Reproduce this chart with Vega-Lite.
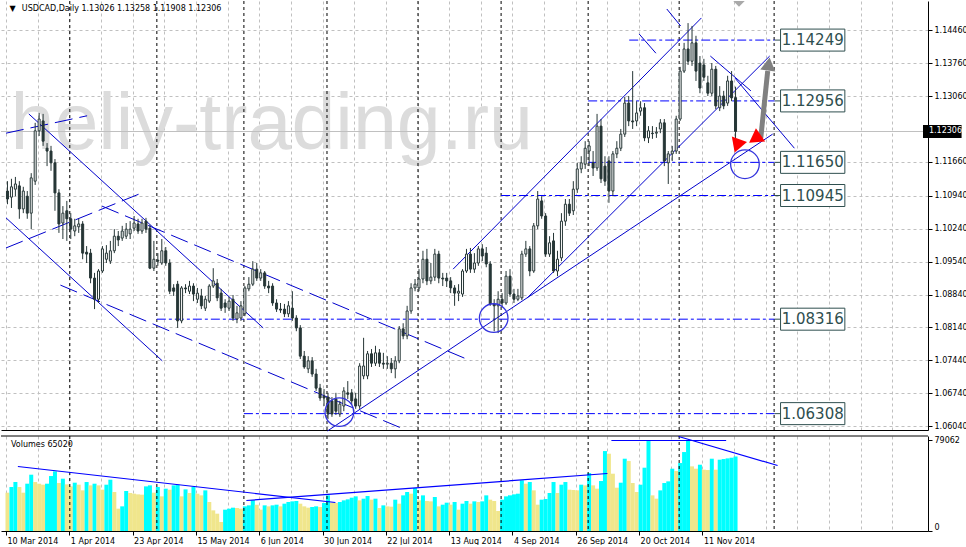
{
  "$schema": "https://vega.github.io/schema/vega-lite/v6.json",
  "padding": 0,
  "background": "#FFFFFF",
  "spacing": 3,
  "config": {
    "view": {"stroke": null},
    "axis": {"labelFont": "DejaVu Sans", "labelFontSize": 8, "labelColor": "#000000", "domainColor": "#000000", "tickColor": "#000000", "labelOverlap": false}
  },
  "datasets": {
    "candles": [
      {"i":0,"o":1.1104,"h":1.1125,"l":1.1076,"c":1.1087},
      {"i":1,"o":1.1091,"h":1.1130,"l":1.1068,"c":1.1113},
      {"i":2,"o":1.1108,"h":1.1134,"l":1.1093,"c":1.1119},
      {"i":3,"o":1.1115,"h":1.1125,"l":1.1045,"c":1.1066},
      {"i":4,"o":1.1066,"h":1.1113,"l":1.1057,"c":1.1104},
      {"i":5,"o":1.1093,"h":1.1104,"l":1.1045,"c":1.1057},
      {"i":6,"o":1.1057,"h":1.1142,"l":1.1023,"c":1.1132},
      {"i":7,"o":1.1125,"h":1.1249,"l":1.1117,"c":1.1232},
      {"i":8,"o":1.1232,"h":1.1270,"l":1.1221,"c":1.1257},
      {"i":9,"o":1.1253,"h":1.1268,"l":1.1200,"c":1.1210},
      {"i":10,"o":1.1195,"h":1.1206,"l":1.1157,"c":1.1189},
      {"i":11,"o":1.1189,"h":1.1200,"l":1.1147,"c":1.1164},
      {"i":12,"o":1.1164,"h":1.1172,"l":1.1062,"c":1.1100},
      {"i":13,"o":1.1100,"h":1.1108,"l":1.1015,"c":1.1034},
      {"i":14,"o":1.1036,"h":1.1072,"l":1.1002,"c":1.1057},
      {"i":15,"o":1.1062,"h":1.1083,"l":1.0998,"c":1.1045},
      {"i":16,"o":1.1045,"h":1.1057,"l":1.1002,"c":1.1023},
      {"i":17,"o":1.1019,"h":1.1045,"l":1.1008,"c":1.1030},
      {"i":18,"o":1.1028,"h":1.1045,"l":1.1015,"c":1.1034},
      {"i":19,"o":1.1034,"h":1.1040,"l":1.0959,"c":1.0972},
      {"i":20,"o":1.0974,"h":1.0987,"l":1.0951,"c":1.0970},
      {"i":21,"o":1.0972,"h":1.0981,"l":1.0908,"c":1.0919},
      {"i":22,"o":1.0919,"h":1.0930,"l":1.0853,"c":1.0874},
      {"i":23,"o":1.0874,"h":1.0938,"l":1.0866,"c":1.0934},
      {"i":24,"o":1.0934,"h":1.0987,"l":1.0930,"c":1.0981},
      {"i":25,"o":1.0959,"h":1.0989,"l":1.0951,"c":1.0972},
      {"i":26,"o":1.0955,"h":1.0998,"l":1.0949,"c":1.0977},
      {"i":27,"o":1.0977,"h":1.1023,"l":1.0972,"c":1.1008},
      {"i":28,"o":1.1008,"h":1.1019,"l":1.0987,"c":1.1000},
      {"i":29,"o":1.1004,"h":1.1030,"l":1.0998,"c":1.1019},
      {"i":30,"o":1.1008,"h":1.1036,"l":1.1002,"c":1.1023},
      {"i":31,"o":1.1013,"h":1.1040,"l":1.1002,"c":1.1023},
      {"i":32,"o":1.1025,"h":1.1051,"l":1.1019,"c":1.1036},
      {"i":33,"o":1.1034,"h":1.1045,"l":1.1013,"c":1.1019},
      {"i":34,"o":1.1019,"h":1.1045,"l":1.1013,"c":1.1036},
      {"i":35,"o":1.1040,"h":1.1047,"l":1.1015,"c":1.1023},
      {"i":36,"o":1.1025,"h":1.1032,"l":1.0938,"c":1.0940},
      {"i":37,"o":1.0940,"h":1.0998,"l":1.0934,"c":1.0959},
      {"i":38,"o":1.0957,"h":1.0972,"l":1.0945,"c":1.0955},
      {"i":39,"o":1.0951,"h":1.1002,"l":1.0947,"c":1.0977},
      {"i":40,"o":1.0977,"h":1.0985,"l":1.0945,"c":1.0951},
      {"i":41,"o":1.0951,"h":1.0959,"l":1.0885,"c":1.0891},
      {"i":42,"o":1.0898,"h":1.0906,"l":1.0881,"c":1.0891},
      {"i":43,"o":1.0906,"h":1.0913,"l":1.0813,"c":1.0828},
      {"i":44,"o":1.0828,"h":1.0902,"l":1.0823,"c":1.0898},
      {"i":45,"o":1.0898,"h":1.0906,"l":1.0887,"c":1.0896},
      {"i":46,"o":1.0891,"h":1.0913,"l":1.0885,"c":1.0902},
      {"i":47,"o":1.0902,"h":1.0908,"l":1.0870,"c":1.0885},
      {"i":48,"o":1.0874,"h":1.0898,"l":1.0866,"c":1.0887},
      {"i":49,"o":1.0881,"h":1.0896,"l":1.0853,"c":1.0860},
      {"i":50,"o":1.0855,"h":1.0881,"l":1.0849,"c":1.0874},
      {"i":51,"o":1.0870,"h":1.0906,"l":1.0866,"c":1.0902},
      {"i":52,"o":1.0902,"h":1.0940,"l":1.0898,"c":1.0913},
      {"i":53,"o":1.0908,"h":1.0917,"l":1.0870,"c":1.0877},
      {"i":54,"o":1.0887,"h":1.0896,"l":1.0849,"c":1.0855},
      {"i":55,"o":1.0866,"h":1.0874,"l":1.0845,"c":1.0857},
      {"i":56,"o":1.0855,"h":1.0879,"l":1.0849,"c":1.0870},
      {"i":57,"o":1.0874,"h":1.0883,"l":1.0828,"c":1.0834},
      {"i":58,"o":1.0832,"h":1.0860,"l":1.0823,"c":1.0845},
      {"i":59,"o":1.0834,"h":1.0870,"l":1.0828,"c":1.0860},
      {"i":60,"o":1.0843,"h":1.0902,"l":1.0838,"c":1.0898},
      {"i":61,"o":1.0896,"h":1.0921,"l":1.0891,"c":1.0906},
      {"i":62,"o":1.0906,"h":1.0955,"l":1.0902,"c":1.0938},
      {"i":63,"o":1.0938,"h":1.0951,"l":1.0913,"c":1.0919},
      {"i":64,"o":1.0919,"h":1.0938,"l":1.0913,"c":1.0930},
      {"i":65,"o":1.0930,"h":1.0934,"l":1.0896,"c":1.0902},
      {"i":66,"o":1.0902,"h":1.0913,"l":1.0887,"c":1.0898},
      {"i":67,"o":1.0902,"h":1.0908,"l":1.0860,"c":1.0866},
      {"i":68,"o":1.0866,"h":1.0874,"l":1.0847,"c":1.0853},
      {"i":69,"o":1.0853,"h":1.0866,"l":1.0845,"c":1.0851},
      {"i":70,"o":1.0853,"h":1.0864,"l":1.0836,"c":1.0843},
      {"i":71,"o":1.0843,"h":1.0870,"l":1.0836,"c":1.0860},
      {"i":72,"o":1.0855,"h":1.0891,"l":1.0828,"c":1.0834},
      {"i":73,"o":1.0834,"h":1.0840,"l":1.0806,"c":1.0813},
      {"i":74,"o":1.0813,"h":1.0819,"l":1.0747,"c":1.0753},
      {"i":75,"o":1.0753,"h":1.0764,"l":1.0726,"c":1.0730},
      {"i":76,"o":1.0726,"h":1.0753,"l":1.0717,"c":1.0743},
      {"i":77,"o":1.0743,"h":1.0751,"l":1.0709,"c":1.0715},
      {"i":78,"o":1.0715,"h":1.0726,"l":1.0679,"c":1.0685},
      {"i":79,"o":1.0685,"h":1.0694,"l":1.0658,"c":1.0664},
      {"i":80,"o":1.0668,"h":1.0683,"l":1.0647,"c":1.0664},
      {"i":81,"o":1.0666,"h":1.0675,"l":1.0619,"c":1.0630},
      {"i":82,"o":1.0658,"h":1.0666,"l":1.0624,"c":1.0630},
      {"i":83,"o":1.0662,"h":1.0675,"l":1.0628,"c":1.0636},
      {"i":84,"o":1.0630,"h":1.0658,"l":1.0624,"c":1.0651},
      {"i":85,"o":1.0647,"h":1.0687,"l":1.0636,"c":1.0679},
      {"i":86,"o":1.0675,"h":1.0700,"l":1.0662,"c":1.0672},
      {"i":87,"o":1.0675,"h":1.0683,"l":1.0649,"c":1.0658},
      {"i":88,"o":1.0662,"h":1.0675,"l":1.0641,"c":1.0647},
      {"i":89,"o":1.0647,"h":1.0738,"l":1.0641,"c":1.0732},
      {"i":90,"o":1.0711,"h":1.0792,"l":1.0704,"c":1.0732},
      {"i":91,"o":1.0711,"h":1.0764,"l":1.0704,"c":1.0758},
      {"i":92,"o":1.0758,"h":1.0768,"l":1.0730,"c":1.0738},
      {"i":93,"o":1.0738,"h":1.0775,"l":1.0732,"c":1.0760},
      {"i":94,"o":1.0760,"h":1.0768,"l":1.0730,"c":1.0738},
      {"i":95,"o":1.0738,"h":1.0760,"l":1.0726,"c":1.0736},
      {"i":96,"o":1.0736,"h":1.0753,"l":1.0726,"c":1.0738},
      {"i":97,"o":1.0738,"h":1.0749,"l":1.0717,"c":1.0726},
      {"i":98,"o":1.0726,"h":1.0753,"l":1.0706,"c":1.0743},
      {"i":99,"o":1.0743,"h":1.0817,"l":1.0738,"c":1.0811},
      {"i":100,"o":1.0811,"h":1.0823,"l":1.0789,"c":1.0796},
      {"i":101,"o":1.0796,"h":1.0860,"l":1.0789,"c":1.0849},
      {"i":102,"o":1.0849,"h":1.0908,"l":1.0843,"c":1.0898},
      {"i":103,"o":1.0898,"h":1.0917,"l":1.0891,"c":1.0906},
      {"i":104,"o":1.0898,"h":1.0938,"l":1.0891,"c":1.0917},
      {"i":105,"o":1.0917,"h":1.0977,"l":1.0908,"c":1.0959},
      {"i":106,"o":1.0959,"h":1.0981,"l":1.0904,"c":1.0913},
      {"i":107,"o":1.0913,"h":1.0951,"l":1.0906,"c":1.0921},
      {"i":108,"o":1.0921,"h":1.0981,"l":1.0913,"c":1.0970},
      {"i":109,"o":1.0970,"h":1.0977,"l":1.0908,"c":1.0919},
      {"i":110,"o":1.0919,"h":1.0930,"l":1.0902,"c":1.0917},
      {"i":111,"o":1.0919,"h":1.0930,"l":1.0900,"c":1.0913},
      {"i":112,"o":1.0913,"h":1.0921,"l":1.0887,"c":1.0898},
      {"i":113,"o":1.0898,"h":1.0904,"l":1.0860,"c":1.0887},
      {"i":114,"o":1.0887,"h":1.0906,"l":1.0870,"c":1.0891},
      {"i":115,"o":1.0885,"h":1.0938,"l":1.0879,"c":1.0934},
      {"i":116,"o":1.0934,"h":1.0981,"l":1.0930,"c":1.0970},
      {"i":117,"o":1.0970,"h":1.0983,"l":1.0930,"c":1.0938},
      {"i":118,"o":1.0938,"h":1.0972,"l":1.0930,"c":1.0951},
      {"i":119,"o":1.0951,"h":1.0987,"l":1.0945,"c":1.0981},
      {"i":120,"o":1.0981,"h":1.0991,"l":1.0955,"c":1.0966},
      {"i":121,"o":1.0972,"h":1.0985,"l":1.0942,"c":1.0949},
      {"i":122,"o":1.0949,"h":1.0955,"l":1.0860,"c":1.0864},
      {"i":123,"o":1.0864,"h":1.0874,"l":1.0806,"c":1.0860},
      {"i":124,"o":1.0860,"h":1.0891,"l":1.0802,"c":1.0874},
      {"i":125,"o":1.0874,"h":1.0887,"l":1.0857,"c":1.0866},
      {"i":126,"o":1.0866,"h":1.0934,"l":1.0862,"c":1.0923},
      {"i":127,"o":1.0923,"h":1.0938,"l":1.0879,"c":1.0885},
      {"i":128,"o":1.0885,"h":1.0896,"l":1.0866,"c":1.0874},
      {"i":129,"o":1.0874,"h":1.0896,"l":1.0870,"c":1.0881},
      {"i":130,"o":1.0877,"h":1.0977,"l":1.0872,"c":1.0970},
      {"i":131,"o":1.0970,"h":1.0998,"l":1.0964,"c":1.0981},
      {"i":132,"o":1.0981,"h":1.0987,"l":1.0923,"c":1.0934},
      {"i":133,"o":1.0934,"h":1.1036,"l":1.0930,"c":1.1030},
      {"i":134,"o":1.1030,"h":1.1104,"l":1.1023,"c":1.1087},
      {"i":135,"o":1.1083,"h":1.1093,"l":1.1045,"c":1.1051},
      {"i":136,"o":1.1051,"h":1.1057,"l":1.0964,"c":1.0970},
      {"i":137,"o":1.0970,"h":1.1008,"l":1.0964,"c":1.0994},
      {"i":138,"o":1.0998,"h":1.1015,"l":1.0930,"c":1.0934},
      {"i":139,"o":1.0934,"h":1.0977,"l":1.0923,"c":1.0959},
      {"i":140,"o":1.0962,"h":1.1057,"l":1.0955,"c":1.1040},
      {"i":141,"o":1.1040,"h":1.1087,"l":1.1030,"c":1.1076},
      {"i":142,"o":1.1076,"h":1.1087,"l":1.1051,"c":1.1057},
      {"i":143,"o":1.1062,"h":1.1125,"l":1.1053,"c":1.1108},
      {"i":144,"o":1.1108,"h":1.1164,"l":1.1100,"c":1.1151},
      {"i":145,"o":1.1151,"h":1.1178,"l":1.1142,"c":1.1164},
      {"i":146,"o":1.1161,"h":1.1210,"l":1.1151,"c":1.1195},
      {"i":147,"o":1.1189,"h":1.1210,"l":1.1157,"c":1.1200},
      {"i":148,"o":1.1164,"h":1.1189,"l":1.1136,"c":1.1153},
      {"i":149,"o":1.1153,"h":1.1268,"l":1.1147,"c":1.1242},
      {"i":150,"o":1.1242,"h":1.1257,"l":1.1121,"c":1.1130},
      {"i":151,"o":1.1157,"h":1.1178,"l":1.1115,"c":1.1125},
      {"i":152,"o":1.1168,"h":1.1178,"l":1.1079,"c":1.1104},
      {"i":153,"o":1.1104,"h":1.1189,"l":1.1093,"c":1.1183},
      {"i":154,"o":1.1183,"h":1.1210,"l":1.1174,"c":1.1195},
      {"i":155,"o":1.1195,"h":1.1236,"l":1.1189,"c":1.1225},
      {"i":156,"o":1.1225,"h":1.1304,"l":1.1219,"c":1.1291},
      {"i":157,"o":1.1291,"h":1.1306,"l":1.1242,"c":1.1253},
      {"i":158,"o":1.1253,"h":1.1359,"l":1.1236,"c":1.1251},
      {"i":159,"o":1.1253,"h":1.1295,"l":1.1242,"c":1.1270},
      {"i":160,"o":1.1274,"h":1.1295,"l":1.1264,"c":1.1281},
      {"i":161,"o":1.1281,"h":1.1291,"l":1.1210,"c":1.1217},
      {"i":162,"o":1.1217,"h":1.1242,"l":1.1206,"c":1.1232},
      {"i":163,"o":1.1227,"h":1.1242,"l":1.1215,"c":1.1226},
      {"i":164,"o":1.1227,"h":1.1240,"l":1.1217,"c":1.1229},
      {"i":165,"o":1.1236,"h":1.1257,"l":1.1227,"c":1.1249},
      {"i":166,"o":1.1249,"h":1.1257,"l":1.1157,"c":1.1168},
      {"i":167,"o":1.1164,"h":1.1189,"l":1.1119,"c":1.1183},
      {"i":168,"o":1.1183,"h":1.1200,"l":1.1168,"c":1.1189},
      {"i":169,"o":1.1189,"h":1.1264,"l":1.1183,"c":1.1257},
      {"i":170,"o":1.1257,"h":1.1368,"l":1.1253,"c":1.1359},
      {"i":171,"o":1.1359,"h":1.1419,"l":1.1355,"c":1.1406},
      {"i":172,"o":1.1406,"h":1.1461,"l":1.1372,"c":1.1380},
      {"i":173,"o":1.1380,"h":1.1455,"l":1.1370,"c":1.1419},
      {"i":174,"o":1.1419,"h":1.1434,"l":1.1338,"c":1.1359},
      {"i":175,"o":1.1376,"h":1.1391,"l":1.1312,"c":1.1323},
      {"i":176,"o":1.1372,"h":1.1385,"l":1.1338,"c":1.1346},
      {"i":177,"o":1.1334,"h":1.1349,"l":1.1306,"c":1.1312},
      {"i":178,"o":1.1312,"h":1.1376,"l":1.1306,"c":1.1363},
      {"i":179,"o":1.1363,"h":1.1370,"l":1.1278,"c":1.1285},
      {"i":180,"o":1.1281,"h":1.1327,"l":1.1274,"c":1.1306},
      {"i":181,"o":1.1306,"h":1.1317,"l":1.1278,"c":1.1285},
      {"i":182,"o":1.1291,"h":1.1349,"l":1.1285,"c":1.1338},
      {"i":183,"o":1.1338,"h":1.1359,"l":1.1295,"c":1.1302},
      {"i":184,"o":1.13026,"h":1.13258,"l":1.11908,"c":1.12306}
    ],
    "vol": [
      {"i":0,"v":33431,"up":false},{"i":1,"v":38372,"up":true},{"i":2,"v":42733,"up":true},{"i":3,"v":38372,"up":false},
      {"i":4,"v":33431,"up":false},{"i":5,"v":41279,"up":true},{"i":6,"v":49128,"up":true},{"i":7,"v":42733,"up":false},
      {"i":8,"v":41279,"up":false},{"i":9,"v":40407,"up":false},{"i":10,"v":41279,"up":true},{"i":11,"v":47966,"up":true},
      {"i":12,"v":52035,"up":true},{"i":13,"v":41861,"up":false},{"i":14,"v":45640,"up":true},{"i":15,"v":40698,"up":false},
      {"i":16,"v":38954,"up":false},{"i":17,"v":42152,"up":true},{"i":18,"v":40407,"up":false},{"i":19,"v":35465,"up":false},
      {"i":20,"v":42733,"up":true},{"i":21,"v":39826,"up":false},{"i":22,"v":41279,"up":true},{"i":23,"v":39826,"up":false},
      {"i":24,"v":36047,"up":false},{"i":25,"v":40407,"up":true},{"i":26,"v":44768,"up":true},{"i":27,"v":34012,"up":false},
      {"i":28,"v":19477,"up":false},{"i":29,"v":21512,"up":true},{"i":30,"v":34884,"up":true},{"i":31,"v":33140,"up":false},
      {"i":32,"v":32558,"up":false},{"i":33,"v":31977,"up":false},{"i":34,"v":31686,"up":false},{"i":35,"v":38954,"up":true},
      {"i":36,"v":39826,"up":true},{"i":37,"v":33431,"up":false},{"i":38,"v":38372,"up":true},{"i":39,"v":30233,"up":false},
      {"i":40,"v":36919,"up":true},{"i":41,"v":36047,"up":false},{"i":42,"v":39826,"up":true},{"i":43,"v":40407,"up":true},
      {"i":44,"v":30233,"up":false},{"i":45,"v":36338,"up":true},{"i":46,"v":33140,"up":false},{"i":47,"v":38372,"up":true},
      {"i":48,"v":32558,"up":false},{"i":49,"v":31105,"up":false},{"i":50,"v":35465,"up":true},{"i":51,"v":25291,"up":false},
      {"i":52,"v":18023,"up":false},{"i":53,"v":15116,"up":false},{"i":54,"v":7849,"up":false},{"i":55,"v":18605,"up":true},
      {"i":56,"v":19477,"up":true},{"i":57,"v":20349,"up":true},{"i":58,"v":20058,"up":false},{"i":59,"v":19477,"up":false},
      {"i":60,"v":21512,"up":true},{"i":61,"v":22384,"up":true},{"i":62,"v":26744,"up":true},{"i":63,"v":22965,"up":false},
      {"i":64,"v":18605,"up":false},{"i":65,"v":22384,"up":true},{"i":66,"v":21512,"up":false},{"i":67,"v":22384,"up":true},
      {"i":68,"v":22965,"up":true},{"i":69,"v":21512,"up":false},{"i":70,"v":23837,"up":true},{"i":71,"v":25291,"up":true},
      {"i":72,"v":25872,"up":true},{"i":73,"v":26163,"up":true},{"i":74,"v":23837,"up":false},{"i":75,"v":21512,"up":false},
      {"i":76,"v":20349,"up":false},{"i":77,"v":20930,"up":true},{"i":78,"v":21512,"up":true},{"i":79,"v":20930,"up":false},
      {"i":80,"v":24419,"up":true},{"i":81,"v":31105,"up":true},{"i":82,"v":24710,"up":false},{"i":83,"v":24419,"up":false},
      {"i":84,"v":25291,"up":true},{"i":85,"v":26744,"up":true},{"i":86,"v":27617,"up":true},{"i":87,"v":29070,"up":true},
      {"i":88,"v":30233,"up":true},{"i":89,"v":26744,"up":false},{"i":90,"v":28198,"up":true},{"i":91,"v":30524,"up":true},
      {"i":92,"v":27326,"up":false},{"i":93,"v":28198,"up":true},{"i":94,"v":20058,"up":false},{"i":95,"v":22384,"up":true},
      {"i":96,"v":21512,"up":false},{"i":97,"v":21221,"up":false},{"i":98,"v":27326,"up":true},{"i":99,"v":23837,"up":false},
      {"i":100,"v":31105,"up":true},{"i":101,"v":34012,"up":true},{"i":102,"v":32558,"up":false},{"i":103,"v":37500,"up":true},
      {"i":104,"v":26744,"up":false},{"i":105,"v":31105,"up":true},{"i":106,"v":26163,"up":false},{"i":107,"v":25872,"up":false},
      {"i":108,"v":29651,"up":true},{"i":109,"v":21512,"up":false},{"i":110,"v":22965,"up":true},{"i":111,"v":24710,"up":true},
      {"i":112,"v":22965,"up":false},{"i":113,"v":25291,"up":true},{"i":114,"v":18605,"up":false},{"i":115,"v":23837,"up":true},
      {"i":116,"v":26163,"up":true},{"i":117,"v":23837,"up":false},{"i":118,"v":25872,"up":true},{"i":119,"v":25291,"up":false},
      {"i":120,"v":25872,"up":true},{"i":121,"v":31105,"up":true},{"i":122,"v":27326,"up":false},{"i":123,"v":26163,"up":false},
      {"i":124,"v":17442,"up":false},{"i":125,"v":27326,"up":true},{"i":126,"v":30233,"up":true},{"i":127,"v":31105,"up":true},
      {"i":128,"v":31977,"up":true},{"i":129,"v":32558,"up":true},{"i":130,"v":44186,"up":true},{"i":131,"v":41279,"up":false},
      {"i":132,"v":42733,"up":true},{"i":133,"v":35465,"up":false},{"i":134,"v":22965,"up":false},{"i":135,"v":27326,"up":true},
      {"i":136,"v":27907,"up":true},{"i":137,"v":33140,"up":true},{"i":138,"v":42733,"up":true},{"i":139,"v":33140,"up":false},
      {"i":140,"v":40407,"up":true},{"i":141,"v":42733,"up":true},{"i":142,"v":36047,"up":false},{"i":143,"v":35756,"up":false},
      {"i":144,"v":35465,"up":false},{"i":145,"v":40407,"up":true},{"i":146,"v":39826,"up":false},{"i":147,"v":50582,"up":true},
      {"i":148,"v":39826,"up":false},{"i":149,"v":36919,"up":false},{"i":150,"v":43605,"up":true},{"i":151,"v":69768,"up":true},
      {"i":152,"v":67442,"up":false},{"i":153,"v":50000,"up":false},{"i":154,"v":37791,"up":false},{"i":155,"v":42152,"up":true},
      {"i":156,"v":63082,"up":true},{"i":157,"v":61047,"up":false},{"i":158,"v":41861,"up":false},{"i":159,"v":34012,"up":false},
      {"i":160,"v":40407,"up":true},{"i":161,"v":55233,"up":true},{"i":162,"v":78489,"up":true},{"i":163,"v":31105,"up":false},
      {"i":164,"v":28198,"up":false},{"i":165,"v":35465,"up":true},{"i":166,"v":41861,"up":true},{"i":167,"v":43314,"up":true},
      {"i":168,"v":54361,"up":true},{"i":169,"v":52326,"up":false},{"i":170,"v":59303,"up":true},{"i":171,"v":68896,"up":true},
      {"i":172,"v":79062,"up":true},{"i":173,"v":56396,"up":false},{"i":174,"v":54361,"up":false},{"i":175,"v":57849,"up":true},
      {"i":176,"v":53489,"up":false},{"i":177,"v":53198,"up":false},{"i":178,"v":63082,"up":true},{"i":179,"v":53489,"up":false},
      {"i":180,"v":62210,"up":true},{"i":181,"v":62792,"up":true},{"i":182,"v":63373,"up":true},{"i":183,"v":63954,"up":true},
      {"i":184,"v":65020,"up":true}
    ],
    "levels": [
      {"p":1.14249,"s":157.125,"t":"1.14249"},
      {"p":1.12956,"s":146.75,"t":"1.12956"},
      {"p":1.11650,"s":146.75,"t":"1.11650"},
      {"p":1.10945,"s":124.75,"t":"1.10945"},
      {"p":1.08316,"s":37.75,"t":"1.08316"},
      {"p":1.06308,"s":59.75,"t":"1.06308"}
    ],
    "cur": [{"p":1.12306,"t":"1.12306"}],
    "seps": [{"i":15.75},{"i":37.75},{"i":59.75},{"i":80.75},{"i":103.75},{"i":124.75},{"i":146.75},{"i":169.75},{"i":193.75}],
    "tls": [
      {"i1":5.375,"p1":1.1268,"i2":64.625,"p2":1.0813},
      {"i1":-0.375,"p1":1.1047,"i2":39.125,"p2":1.0743},
      {"i1":80.875,"p1":1.0594,"i2":193.375,"p2":1.1225},
      {"i1":131.375,"p1":1.0877,"i2":192.625,"p2":1.1391},
      {"i1":112.625,"p1":1.0938,"i2":175.375,"p2":1.1472},
      {"i1":159.625,"p1":1.1438,"i2":163.875,"p2":1.1397},
      {"i1":166.625,"p1":1.1491,"i2":170.125,"p2":1.1455},
      {"i1":177.625,"p1":1.1391,"i2":187.875,"p2":1.1317},
      {"i1":183.875,"p1":1.1344,"i2":198.875,"p2":1.1195}
    ],
    "tld": [
      {"i1":-0.375,"p1":1.1227,"i2":20.125,"p2":1.1264},
      {"i1":-0.375,"p1":1.0983,"i2":33.375,"p2":1.1098},
      {"i1":23.875,"p1":1.1072,"i2":117.125,"p2":1.0743},
      {"i1":13.375,"p1":1.0904,"i2":100.125,"p2":1.0598}
    ],
    "circles": [
      {"i":83.875,"p":1.0634},
      {"i":122.875,"p":1.0834},
      {"i":186.375,"p":1.1161}
    ],
    "shaft": [{"i1":190.375,"p1":1.1217,"i2":192.125,"p2":1.1359}],
    "ghead": [{"i":192.375,"p":1.1374}],
    "gtop": [{"i":184.875,"p":1.1510}],
    "rhead1": [{"i":184.375,"p":1.1200}],
    "rhead2": [{"i":188.875,"p":1.1215}],
    "wm": [{"i":0.75,"p":1.1193,"t":"heliy-trading.ru"}],
    "title": [{"i":3.625,"p":1.1492,"t":"USDCAD,Daily  1.13026 1.13258 1.11908 1.12306"}],
    "tri": [{"i":0.5,"p":1.1492,"t":"▼"}],
    "vlines": [
      {"i1":2.625,"v1":56283,"i2":82.875,"v2":24869},
      {"i1":60.375,"v1":26614,"i2":151.625,"v2":50175},
      {"i1":152.625,"v1":78970,"i2":181.625,"v2":78970},
      {"i1":169.625,"v1":82460,"i2":194.625,"v2":57155}
    ],
    "voltext": [{"i":0.875,"v":75480,"t":"Volumes 65020"}]
  },
  "vconcat": [
    {
      "width": 927,
      "height": 429,
      "layer": [
        {
          "data": {"name": "wm"},
          "mark": {"type": "text", "font": "Liberation Sans", "fontSize": 79, "color": "#DCDCDC", "align": "left", "baseline": "alphabetic"},
          "encoding": {
            "x": {"field": "i", "type": "quantitative", "scale": {"domain": [-0.375, 231.375], "nice": false, "zero": false},
              "axis": {"values": [-0.375,7.625,15.625,23.625,31.625,39.625,47.625,55.625,63.625,71.625,79.625,87.625,95.625,103.625,111.625,119.625,127.625,135.625,143.625,151.625,159.625,167.625,175.625,183.625,191.625,199.625,207.625,215.625,223.625],
                "tickCount": 200, "grid": true, "gridColor": "#C0C0C0", "gridDash": [3,3], "labels": false, "ticks": false, "domain": true, "title": null}},
            "y": {"field": "p", "type": "quantitative", "scale": {"domain": [1.0596, 1.1508], "nice": false, "zero": false},
              "axis": {"orient": "right", "values": [1.0604,1.0674,1.0744,1.0814,1.0884,1.0954,1.1024,1.1094,1.1166,1.1306,1.1376,1.1446],
                "tickCount": 200, "format": ".5f", "grid": true, "gridColor": "#C0C0C0", "gridDash": [3,3], "tickSize": 4, "labelPadding": 2, "labelOverlap": false, "title": null}},
            "text": {"field": "t"}
          }
        },
        {
          "data": {"name": "seps"},
          "mark": {"type": "rule", "color": "#000000", "strokeDash": [3,3], "strokeWidth": 1},
          "encoding": {"x": {"field": "i", "type": "quantitative"}}
        },
        {
          "data": {"name": "cur"},
          "mark": {"type": "rule", "color": "#C0C0C0", "strokeWidth": 1},
          "encoding": {"y": {"field": "p", "type": "quantitative"}}
        },
        {
          "data": {"name": "levels"},
          "mark": {"type": "rule", "color": "#0000FF", "strokeWidth": 1, "strokeDash": [9,3,3,3]},
          "encoding": {
            "x": {"field": "s", "type": "quantitative"},
            "x2": {"datum": 193.875},
            "y": {"field": "p", "type": "quantitative"}
          }
        },
        {
          "data": {"name": "levels"},
          "mark": {"type": "rule", "color": "#2F4F4F", "strokeWidth": 1},
          "encoding": {
            "x": {"datum": 193.875, "type": "quantitative"},
            "x2": {"datum": 195.375},
            "y": {"field": "p", "type": "quantitative"}
          }
        },
        {
          "data": {"name": "levels"},
          "mark": {"type": "rect", "fill": "#FFFFFF", "stroke": "#2F4F4F", "strokeWidth": 1, "yOffset": -11, "y2Offset": 11},
          "encoding": {
            "x": {"datum": 195.375, "type": "quantitative"},
            "x2": {"datum": 211.625},
            "y": {"field": "p", "type": "quantitative"},
            "y2": {"field": "p"}
          }
        },
        {
          "data": {"name": "levels"},
          "mark": {"type": "text", "font": "DejaVu Sans", "fontSize": 15, "color": "#2F4F4F", "align": "center", "baseline": "middle"},
          "encoding": {
            "x": {"datum": 203.5, "type": "quantitative"},
            "y": {"field": "p", "type": "quantitative"},
            "text": {"field": "t"}
          }
        },
        {
          "data": {"name": "tls"},
          "mark": {"type": "rule", "color": "#0000CD", "strokeWidth": 1},
          "encoding": {
            "x": {"field": "i1", "type": "quantitative"},
            "x2": {"field": "i2"},
            "y": {"field": "p1", "type": "quantitative"},
            "y2": {"field": "p2"}
          }
        },
        {
          "data": {"name": "tld"},
          "mark": {"type": "rule", "color": "#0000CD", "strokeWidth": 1, "strokeDash": [18,7]},
          "encoding": {
            "x": {"field": "i1", "type": "quantitative"},
            "x2": {"field": "i2"},
            "y": {"field": "p1", "type": "quantitative"},
            "y2": {"field": "p2"}
          }
        },
        {
          "data": {"name": "candles"},
          "mark": {"type": "rule", "color": "#263636", "strokeWidth": 1},
          "encoding": {
            "x": {"field": "i", "type": "quantitative"},
            "y": {"field": "l", "type": "quantitative"},
            "y2": {"field": "h"}
          }
        },
        {
          "data": {"name": "candles"},
          "mark": {"type": "bar", "width": 2, "stroke": "#263636", "strokeWidth": 1},
          "encoding": {
            "x": {"field": "i", "type": "quantitative"},
            "y": {"field": "o", "type": "quantitative"},
            "y2": {"field": "c"},
            "fill": {"condition": {"test": "datum.c >= datum.o", "value": "#FFFFFF"}, "value": "#263636"}
          }
        },
        {
          "data": {"name": "circles"},
          "mark": {"type": "point", "shape": "circle", "filled": false, "size": 820, "stroke": "#3333DD", "strokeWidth": 1.3, "opacity": 1},
          "encoding": {
            "x": {"field": "i", "type": "quantitative"},
            "y": {"field": "p", "type": "quantitative"}
          }
        },
        {
          "data": {"name": "shaft"},
          "mark": {"type": "rule", "color": "#808080", "strokeWidth": 5},
          "encoding": {
            "x": {"field": "i1", "type": "quantitative"},
            "x2": {"field": "i2"},
            "y": {"field": "p1", "type": "quantitative"},
            "y2": {"field": "p2"}
          }
        },
        {
          "data": {"name": "ghead"},
          "mark": {"type": "point", "shape": "triangle-up", "filled": true, "size": 230, "color": "#808080", "opacity": 1, "angle": 8},
          "encoding": {
            "x": {"field": "i", "type": "quantitative"},
            "y": {"field": "p", "type": "quantitative"}
          }
        },
        {
          "data": {"name": "gtop"},
          "mark": {"type": "point", "shape": "diamond", "filled": true, "size": 180, "color": "#A9A9A9", "opacity": 1, "clip": true},
          "encoding": {
            "x": {"field": "i", "type": "quantitative"},
            "y": {"field": "p", "type": "quantitative"}
          }
        },
        {
          "data": {"name": "rhead1"},
          "mark": {"type": "point", "shape": "triangle-down", "filled": true, "size": 260, "color": "#FF0000", "opacity": 1, "angle": 20},
          "encoding": {
            "x": {"field": "i", "type": "quantitative"},
            "y": {"field": "p", "type": "quantitative"}
          }
        },
        {
          "data": {"name": "rhead2"},
          "mark": {"type": "point", "shape": "triangle-down", "filled": true, "size": 260, "color": "#FF0000", "opacity": 1, "angle": 55},
          "encoding": {
            "x": {"field": "i", "type": "quantitative"},
            "y": {"field": "p", "type": "quantitative"}
          }
        },
        {
          "data": {"name": "title"},
          "mark": {"type": "text", "font": "DejaVu Sans", "fontSize": 8, "color": "#000000", "align": "left", "baseline": "middle"},
          "encoding": {
            "x": {"field": "i", "type": "quantitative"},
            "y": {"field": "p", "type": "quantitative"},
            "text": {"field": "t"}
          }
        },
        {
          "data": {"name": "tri"},
          "mark": {"type": "text", "font": "DejaVu Sans", "fontSize": 8, "color": "#000000", "align": "left", "baseline": "middle"},
          "encoding": {
            "x": {"field": "i", "type": "quantitative"},
            "y": {"field": "p", "type": "quantitative"},
            "text": {"field": "t"}
          }
        },
        {
          "data": {"name": "cur"},
          "mark": {"type": "rect", "fill": "#000000", "yOffset": -6.5, "y2Offset": 6.5},
          "encoding": {
            "x": {"datum": 231.375, "type": "quantitative"},
            "x2": {"datum": 241.125},
            "y": {"field": "p", "type": "quantitative"},
            "y2": {"field": "p"}
          }
        },
        {
          "data": {"name": "cur"},
          "mark": {"type": "text", "font": "DejaVu Sans", "fontSize": 8, "color": "#FFFFFF", "align": "left", "baseline": "middle"},
          "encoding": {
            "x": {"datum": 232.875, "type": "quantitative"},
            "y": {"field": "p", "type": "quantitative"},
            "text": {"field": "t"}
          }
        }
      ]
    },
    {
      "width": 927,
      "height": 95,
      "layer": [
        {
          "data": {"name": "vol"},
          "mark": {"type": "bar", "width": 4},
          "encoding": {
            "x": {"field": "i", "type": "quantitative", "scale": {"domain": [-0.375, 231.375], "nice": false, "zero": false},
              "axis": {"values": [-0.375,7.625,15.625,23.625,31.625,39.625,47.625,55.625,63.625,71.625,79.625,87.625,95.625,103.625,111.625,119.625,127.625,135.625,143.625,151.625,159.625,167.625,175.625,183.625,191.625,199.625,207.625,215.625,223.625],
                "tickCount": 200, "grid": true, "gridColor": "#C0C0C0", "gridDash": [3,3], "title": null, "tickSize": 4, "labelPadding": 2, "labelAlign": "left", "labelOffset": 1,
                "labelOverlap": false, "labelFlush": false,
                "tickOpacity": {"condition": {"test": "(datum.value + 0.375) % 16 == 0 && datum.value < 180", "value": 1}, "value": 0},
                "labelExpr": "(datum.value + 0.375) % 16 == 0 && datum.value < 180 ? ['10 Mar 2014','1 Apr 2014','23 Apr 2014','15 May 2014','6 Jun 2014','30 Jun 2014','22 Jul 2014','13 Aug 2014','4 Sep 2014','26 Sep 2014','20 Oct 2014','11 Nov 2014'][(datum.value + 0.375) / 16] : ''"}},
            "y": {"field": "v", "type": "quantitative", "scale": {"domain": [0, 82900], "nice": false, "zero": true},
              "axis": {"orient": "right", "values": [0, 79062], "format": "d", "grid": false, "tickSize": 4, "labelPadding": 2, "title": null,
                "labelBaseline": {"condition": {"test": "datum.value == 0", "value": "bottom"}, "value": "middle"}}},
            "fill": {"condition": {"test": "datum.up", "value": "#00FFFF"}, "value": "#F0E68C"}
          }
        },
        {
          "data": {"name": "seps"},
          "mark": {"type": "rule", "color": "#000000", "strokeDash": [3,3], "strokeWidth": 1},
          "encoding": {"x": {"field": "i", "type": "quantitative"}}
        },
        {
          "data": {"name": "cur"},
          "mark": {"type": "rule", "color": "#000000", "strokeWidth": 1},
          "encoding": {"y": {"datum": 82900, "type": "quantitative"}}
        },
        {
          "data": {"name": "vlines"},
          "mark": {"type": "rule", "color": "#0000FF", "strokeWidth": 1.2},
          "encoding": {
            "x": {"field": "i1", "type": "quantitative"},
            "x2": {"field": "i2"},
            "y": {"field": "v1", "type": "quantitative"},
            "y2": {"field": "v2"}
          }
        },
        {
          "data": {"name": "voltext"},
          "mark": {"type": "text", "font": "DejaVu Sans", "fontSize": 8, "color": "#000000", "align": "left", "baseline": "middle"},
          "encoding": {
            "x": {"field": "i", "type": "quantitative"},
            "y": {"field": "v", "type": "quantitative"},
            "text": {"field": "t"}
          }
        }
      ]
    }
  ]
}
